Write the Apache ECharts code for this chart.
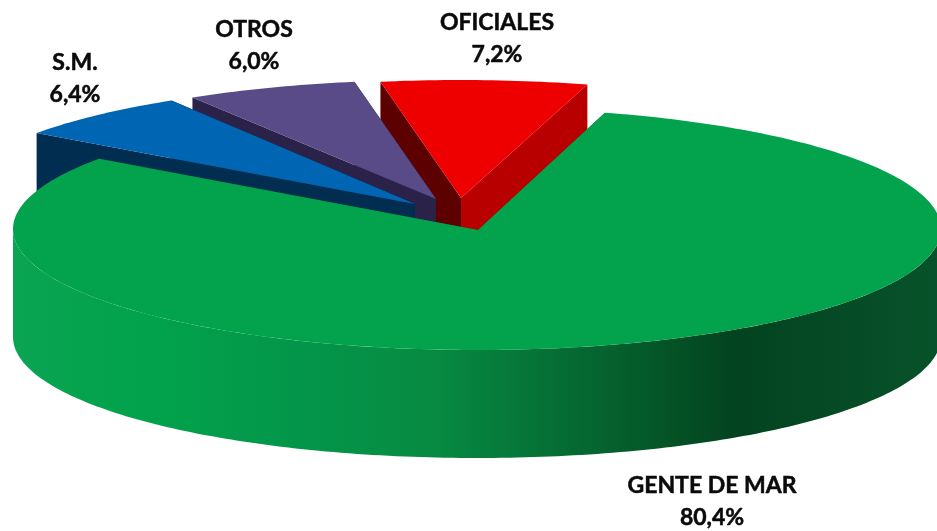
<!DOCTYPE html>
<html>
<head>
<meta charset="utf-8">
<style>html,body{margin:0;padding:0;background:#fff}#c{width:937px;height:531px}</style>
<script src="https://cdn.jsdelivr.net/npm/echarts@6/dist/echarts.min.js"></script>
</head>
<body>
<div id="c"></div>
<script>
// Draw order, back to front (clockwise angles run backwards through this list)
const categories = ['OFICIALES', 'OTROS', 'S.M.', 'GENTE DE MAR'];
const shares = [7.2, 6.0, 6.4, 80.4];
const percentLabels = ['7,2%', '6,0%', '6,4%', '80,4%'];

// Styling and layout
const topColors = ['#ee0000', '#594b87', '#0066b3', '#03a34d'];
const startWallColors = ['#5c0000', '#2a2248', '#012d50', '#006030'];
const endWallColors = ['#b80000', '#2a2248', '#012d50', '#006030'];
const explodeX = [-15, -41, -62, 2];
const explodeY = [-33, -33, -30, -3];
const apexShiftX = [1, 2, 2, 1];
const apexShiftY = [-1, 0, 2, 1];
const radiusX = [462, 462, 462, 464];
const radiusY = [119, 119, 119, 121];
const labelX = [497, 254, 75, 712];
const labelY = [39, 46, 79, 502];
const CX = 475, CY = 232, DEPTH = 108, LAST_ANGLE = 16;

const sideGradient = new echarts.graphic.LinearGradient(13, 0, 937, 0, [
  { offset: 0, color: '#0aa452' },
  { offset: 0.15, color: '#02a24c' },
  { offset: 0.31, color: '#03964a' },
  { offset: 0.46, color: '#078a42' },
  { offset: 0.635, color: '#05642f' },
  { offset: 0.78, color: '#03431f' },
  { offset: 1, color: '#07522a' }
], true);

function renderItem(params, api) {
  const i = params.dataIndex;
  let end = LAST_ANGLE;
  for (let k = 0; k < i; k++) end -= api.value(0, k) * 3.6;
  const start = end - api.value(0, i) * 3.6;
  const ox = explodeX[i], oy = explodeY[i];
  const pt = (deg, dy) => {
    const r = deg * Math.PI / 180;
    return [CX + ox + radiusX[i] * Math.sin(r), CY + oy - radiusY[i] * Math.cos(r) + dy];
  };
  const arc = (a0, a1, dy) => {
    const out = [];
    const n = Math.max(2, Math.ceil(Math.abs(a1 - a0)));
    for (let t = 0; t <= n; t++) out.push(pt(a0 + (a1 - a0) * t / n, dy));
    return out;
  };
  const apex = [CX + ox + apexShiftX[i], CY + oy + apexShiftY[i]];
  const down = p => [p[0], p[1] + DEPTH];
  const children = [];
  const poly = (points, fill) => children.push({
    type: 'polygon', shape: { points }, style: { fill, stroke: null }
  });
  const s = pt(start, 0), e = pt(end, 0);
  poly([apex, s, down(s), down(apex)], startWallColors[i]);
  poly([apex, e, down(e), down(apex)], endWallColors[i]);
  // outer wall: only the part of the rim that faces the viewer (90..270 degrees)
  const wall = (a, b) => {
    poly(arc(a, b, 0).concat(arc(b, a, DEPTH)), i === 3 ? sideGradient : startWallColors[i]);
  };
  const lo = Math.max(start + 360, 90), hi = Math.min(end + 360, 270);
  const lo2 = Math.max(start, 90), hi2 = Math.min(end, 270);
  if (hi > lo) wall(lo, hi);
  if (hi2 > lo2) wall(lo2, hi2);
  poly([apex].concat(arc(start, end, 0)), topColors[i]);
  children.push({
    type: 'text',
    style: {
      text: categories[i] + '\n' + percentLabels[i],
      x: labelX[i], y: labelY[i],
      textAlign: 'center', textVerticalAlign: 'middle',
      fill: '#0a0a0a', stroke: '#0a0a0a', lineWidth: 0.5,
      font: 'bold 23px Lato', lineHeight: 32
    }
  });
  return { type: 'group', children };
}

const chart = echarts.init(document.getElementById('c'), null, { renderer: 'canvas' });
chart.setOption({
  animation: false,
  backgroundColor: '#ffffff',
  series: [{
    type: 'custom',
    coordinateSystem: 'none',
    renderItem,
    silent: true,
    data: shares.map((v, i) => ({ name: categories[i], value: [v, i] }))
  }]
});
</script>
</body>
</html>
